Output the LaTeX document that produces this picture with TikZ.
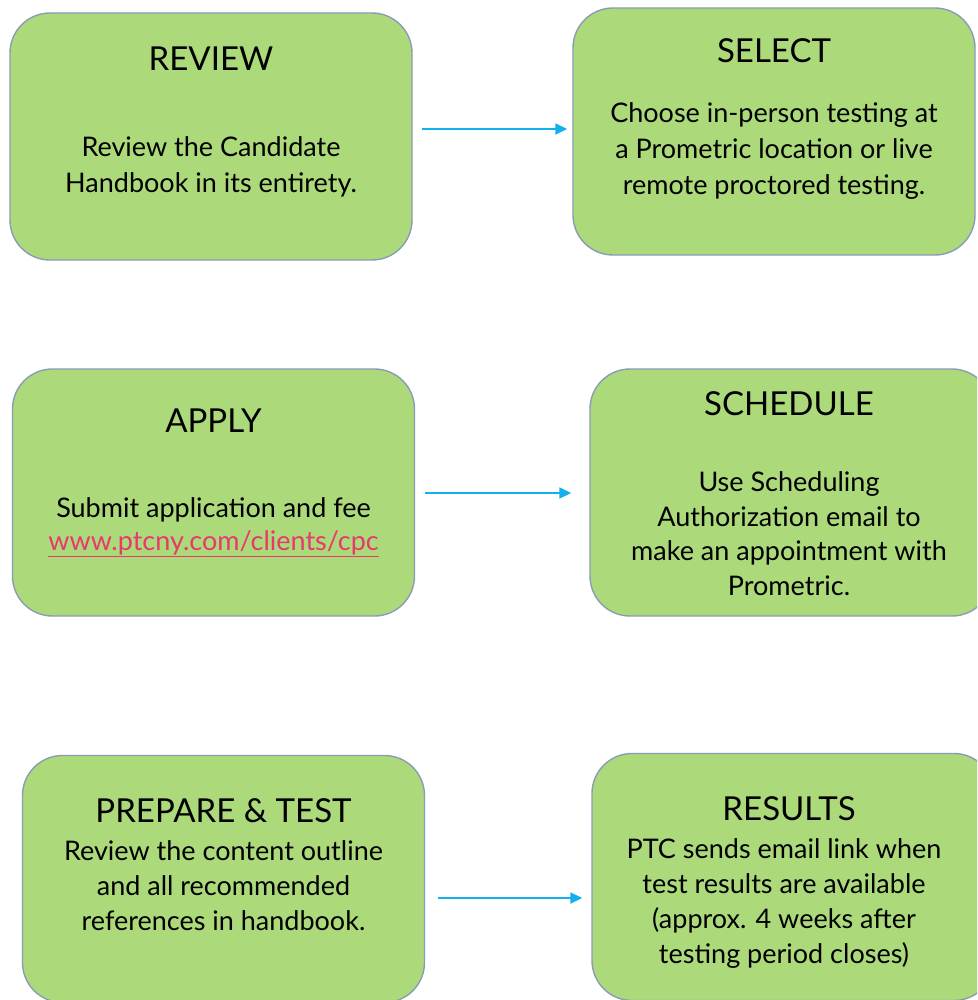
\documentclass[tikz,border=0pt]{standalone}
\usepackage{fontspec}
\setmainfont{Lato}
\usetikzlibrary{arrows.meta,calc}
\definecolor{boxfill}{HTML}{ACDA7B}
\definecolor{boxline}{HTML}{8A9CB4}
\definecolor{arrowcol}{HTML}{14B0EE}
\definecolor{linkcol}{HTML}{E8396C}
\begin{document}
\begin{tikzpicture}[x=1pt,y=-1pt,
  stepbox/.style={draw=boxline,line width=1.4pt,fill=boxfill,rounded corners=40pt,
    minimum width=402pt,minimum height=247pt,inner sep=0pt},
  titletext/.style={anchor=base,inner sep=0pt,font=\fontsize{33}{38}\selectfont},
  bodytext/.style={anchor=base,inner sep=0pt,align=center,font=\fontsize{27}{36}\selectfont},
  flow/.style={draw=arrowcol,line width=1.8pt,-{Triangle[length=12pt,width=11pt]}}]
\useasboundingbox (0,0) rectangle (977,1000);
\fill[white] (0,0) rectangle (977,1000);
\clip (0,0) rectangle (977,1000);
% boxes
\node[stepbox] (rev) at (211,136.5) {};
\node[stepbox] (sel) at (774,131.5) {};
\node[stepbox] (app) at (213.5,492.5) {};
\node[stepbox] (sch) at (791,492.5) {};
\node[stepbox] (pre) at (223.5,879) {};
\node[stepbox] (res) at (793,877) {};
% titles
\node[titletext] (revt) at (211,71) {REVIEW};
\node[titletext] (selt) at (774,63) {SELECT};
\node[titletext] (appt) at (213.5,432) {APPLY};
\node[titletext] (scht) at (789,415) {SCHEDULE};
\node[titletext] (pret) at (223.5,822) {PREPARE \& TEST};
\node[titletext] (rest) at (789,820) {RESULTS};
% bodies (anchor base = baseline of the last line)
\node[bodytext] (revb) at (211,193) {Review the Candidate\\Handbook in its entirety.};
\node[bodytext] (selb) at (774,195) {Choose in-person testing at\\a Prometric location or live\\remote proctored testing.};
\node[bodytext,font=\fontsize{27}{33}\selectfont] (appb) at (213.5,550) {Submit application and fee\\{\color{linkcol}\underline{www.ptcny.com/clients/cpc}}};
\node[bodytext,font=\fontsize{27}{34.5}\selectfont] (schb) at (789,595) {Use Scheduling\\Authorization email to\\make an appointment with\\Prometric.};
\node[bodytext,font=\fontsize{27}{35}\selectfont] (preb) at (223.5,930) {Review the content outline\\and all recommended\\references in handbook.};
\node[bodytext,font=\fontsize{27}{35}\selectfont] (resb) at (784,963) {PTC sends email link when\\test results are available\\(approx. 4 weeks after\\testing period closes)};
% connectors
\draw[flow] ($(rev.east)+(9,-7.5)$) -- ($(sel.west)+(-5,-2.5)$);
\draw[flow] ($(app.east)+(10,0.5)$) -- ($(sch.west)+(-18,0.5)$);
\draw[flow] ($(pre.east)+(13,19)$) -- ($(res.west)+(-9,21)$);
\end{tikzpicture}
\end{document}
